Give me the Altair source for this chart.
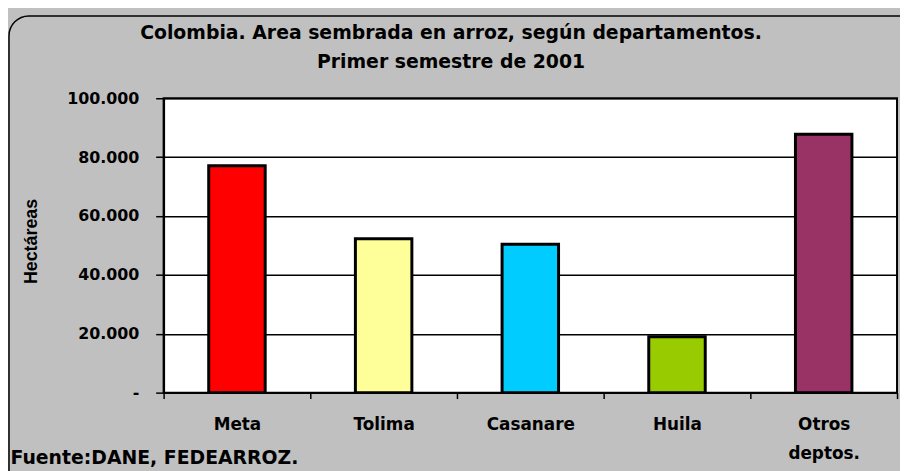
import altair as alt
import pandas as pd

departamentos = ["Meta", "Tolima", "Casanare", "Huila", "Otros deptos."]
hectareas = [77100, 52300, 50400, 19000, 87800]
colores = ["#FF0000", "#FFFF99", "#00CCFF", "#99CC00", "#993366"]
y_ticks = [0, 20000, 40000, 60000, 80000, 100000]

titulo = ["Colombia. Area sembrada en arroz, según departamentos.",
          "Primer semestre de 2001"]
fuente = "Fuente:DANE, FEDEARROZ."
eje_y = "Hectáreas"

df = pd.DataFrame({"dep": departamentos, "ha": hectareas, "color": colores})

W, H = 740, 297

bars = alt.Chart(df).mark_bar(
    width=alt.RelativeBandSize(0.385),
    stroke="black",
    strokeWidth=3,
    strokeJoin="miter",
).encode(
    x=alt.X(
        "dep:N",
        sort=departamentos,
        scale=alt.Scale(paddingInner=0, paddingOuter=0),
        axis=alt.Axis(
            title=fuente,
            titleX=-155,
            titleY=66,
            titleAlign="left",
            titleBaseline="middle",
            titleFont="DejaVu Sans",
            titleFontSize=19,
            titleFontWeight="bold",
            titleColor="black",
            labelAngle=0,
            labelFont="DejaVu Sans",
            labelFontSize=17,
            labelFontWeight="bold",
            labelColor="black",
            labelPadding=18,
            labelLineHeight=29,
            labelExpr="datum.label == 'Otros deptos.' ? ['Otros', 'deptos.'] : datum.label",
            tickBand="extent",
            tickSize=6,
            tickColor="black",
            tickWidth=1.5,
            domainColor="black",
            domainWidth=2,
            grid=False,
        ),
    ),
    y=alt.Y(
        "ha:Q",
        scale=alt.Scale(domain=[0, 100000]),
        axis=alt.Axis(
            values=y_ticks,
            title=eje_y,
            titleX=-133,
            titleY=144,
            titleAngle=270,
            titleAlign="center",
            titleBaseline="middle",
            titleFont="Liberation Sans",
            titleFontSize=18,
            titleFontWeight="bold",
            titleColor="black",
            labelExpr="datum.value == 0 ? '-' : format(datum.value / 1000, '.3f')",
            labelFont="DejaVu Sans",
            labelFontSize=16,
            labelFontWeight="bold",
            labelColor="black",
            labelPadding=17,
            tickSize=8,
            tickColor="black",
            tickWidth=1.5,
            domainColor="black",
            domainWidth=2,
            grid=True,
            gridColor="black",
            gridWidth=1.5,
        ),
    ),
    color=alt.Color("color:N", scale=None),
)

marco = alt.Chart(alt.Data(values=[{}])).mark_rect(
    filled=False,
    stroke="black",
    strokeWidth=1.5,
    cornerRadius=20,
).encode(
    x=alt.value(-156),
    x2=alt.value(W + 30),
    y=alt.value(-83),
    y2=alt.value(H + 110),
)

chart = alt.layer(bars, marco).properties(
    width=W,
    height=H,
    title=alt.TitleParams(
        text=titulo,
        font="DejaVu Sans",
        fontSize=19,
        fontWeight="bold",
        color="black",
        anchor="middle",
        dx=-80,
        dy=75,
        offset=18,
        lineHeight=29,
    ),
    background="#C0C0C0",
    padding={"left": 157, "top": 89, "right": 3, "bottom": 77},
    autosize=alt.AutoSizeParams(type="none"),
).configure_view(
    fill="white",
    stroke="black",
    strokeWidth=2,
)

chart.save("out.html", embed_options={"renderer": "svg", "actions": False})
